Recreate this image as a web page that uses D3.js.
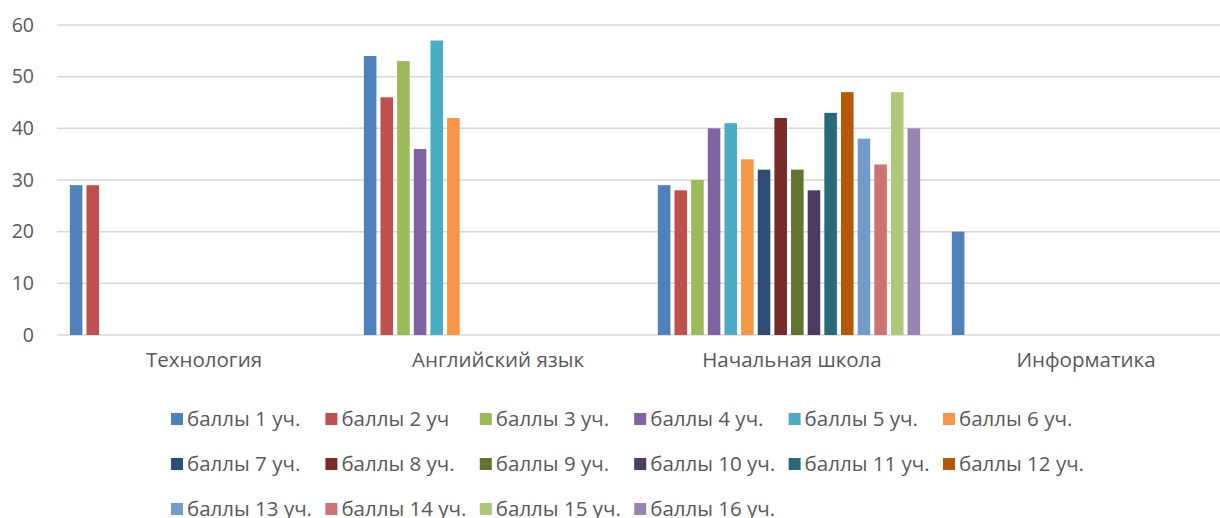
<!DOCTYPE html>
<html>
<head>
<meta charset="utf-8">
<script src="https://cdn.jsdelivr.net/npm/d3@7"></script>
<style>
    body { margin: 0; background: #fff; }
    text { font-family: "Open Sans", "Liberation Sans", Arial, sans-serif; fill: #595959; }
</style>
</head>
<body>
<script>
(function(){

    //chart data
    var categories = ["Технология", "Английский язык", "Начальная школа", "Информатика"];
    var seriesNames = ["баллы 1 уч.", "баллы 2 уч", "баллы 3 уч.", "баллы 4 уч.", "баллы 5 уч.", "баллы 6 уч.",
                       "баллы 7 уч.", "баллы 8 уч.", "баллы 9 уч.", "баллы 10 уч.", "баллы 11 уч.", "баллы 12 уч.",
                       "баллы 13 уч.", "баллы 14 уч.", "баллы 15 уч.", "баллы 16 уч."];
    //one array per category, series in order
    var techValues = [29, 29];
    var englishValues = [54, 46, 53, 36, 57, 42];
    var primaryValues = [29, 28, 30, 40, 41, 34, 32, 42, 32, 28, 43, 47, 38, 33, 47, 40];
    var infoValues = [20];
    var yTicks = [0, 10, 20, 30, 40, 50, 60];
    var colors = ["#4F81BD", "#C0504D", "#9BBB59", "#8064A2", "#4BACC6", "#F79646",
                  "#2C4D75", "#772C2A", "#5F7530", "#4D3B62", "#276A7C", "#B65708",
                  "#729ACA", "#CD7371", "#AFC97A", "#9983B5"];

    var valueRows = [techValues, englishValues, primaryValues, infoValues];

    var width = 1220, height = 518;

    var svg = d3.select("body").append("svg")
        .attr("width", width)
        .attr("height", height);

    //scales
    var x0 = d3.scaleBand()
        .domain(categories)
        .range([54, 1230])
        .paddingInner(0.08)
        .paddingOuter(0.04);

    var x1 = d3.scaleBand()
        .domain(d3.range(seriesNames.length))
        .range([0, x0.bandwidth()])
        .padding(0.245);

    var y = d3.scaleLinear()
        .domain([0, 60])
        .range([335, 25]);

    //gridlines
    svg.append("g")
        .selectAll("line")
        .data(yTicks)
        .enter()
        .append("line")
        .attr("x1", 57)
        .attr("x2", width)
        .attr("y1", function(d) { return y(d); })
        .attr("y2", function(d) { return y(d); })
        .style("stroke", "#d9d9d9")
        .style("stroke-width", "1.5px");

    //y axis labels
    var yAxis = d3.axisLeft(y).tickValues(yTicks).tickSize(0).tickPadding(0);
    var yg = svg.append("g")
        .attr("transform", "translate(34,0)")
        .call(yAxis);
    yg.select(".domain").remove();
    yg.selectAll("text")
        .style("font-size", "19.5px")
        .style("fill", "#595959")
        .style("font-family", "Open Sans, Liberation Sans, Arial, sans-serif");

    //bars
    var groups = svg.selectAll(".group")
        .data(categories)
        .enter()
        .append("g")
        .attr("class", "group")
        .attr("transform", function(d) { return "translate(" + x0(d) + ",0)"; });

    groups.selectAll("rect")
        .data(function(d, i) {
            return valueRows[i].map(function(v, s) { return { s: s, v: v }; });
        })
        .enter()
        .append("rect")
        .attr("x", function(d) { return x1(d.s); })
        .attr("width", x1.bandwidth())
        .attr("y", function(d) { return y(d.v); })
        .attr("height", function(d) { return y(0) - y(d.v); })
        .attr("fill", function(d) { return colors[d.s]; });

    //category labels, centred on each band
    var xAxis = d3.axisBottom(x0).tickSize(0).tickPadding(0);
    var xg = svg.append("g")
        .attr("transform", "translate(3,352)")
        .call(xAxis);
    xg.select(".domain").remove();
    xg.selectAll("text")
        .style("font-size", "20.5px")
        .style("fill", "#595959")
        .style("font-family", "Open Sans, Liberation Sans, Arial, sans-serif");

    //legend, 6 columns
    var legend = svg.selectAll(".legend")
        .data(seriesNames)
        .enter()
        .append("g")
        .attr("class", "legend")
        .attr("transform", function(d, i) {
            return "translate(" + (171 + (i % 6) * 154.4) + "," + (419 + Math.floor(i / 6) * 45) + ")";
        });

    legend.append("rect")
        .attr("x", 0)
        .attr("y", -6)
        .attr("width", 12)
        .attr("height", 12)
        .attr("fill", function(d, i) { return colors[i]; });

    legend.append("text")
        .attr("x", 16)
        .attr("y", 0)
        .attr("dy", "0.35em")
        .style("font-size", "20.5px")
        .text(function(d) { return d; });
})();
</script>
</body>
</html>
